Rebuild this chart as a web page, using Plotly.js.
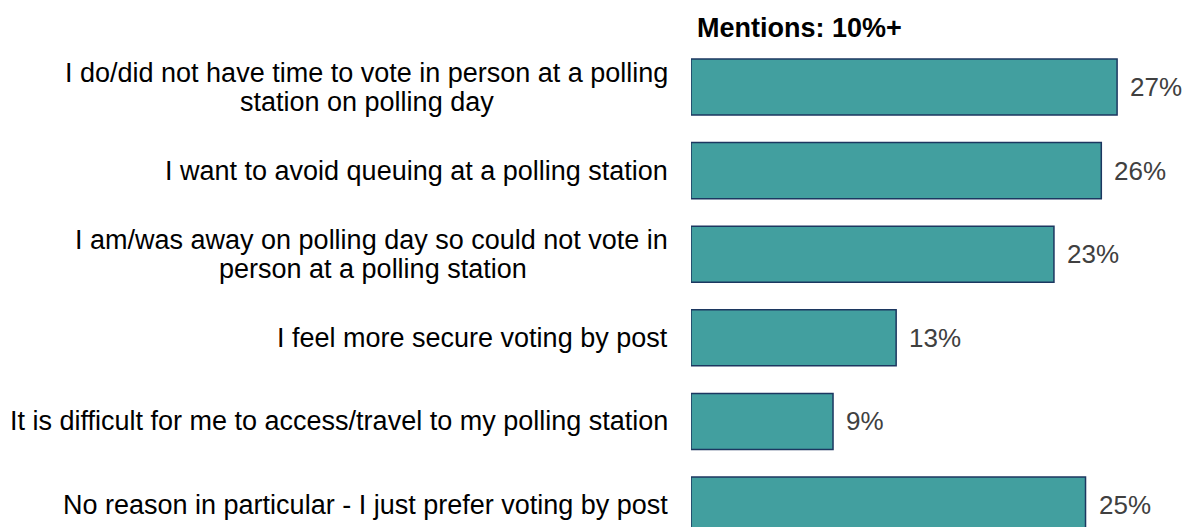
<!DOCTYPE html>
<html>
<head>
<meta charset="utf-8">
<script src="https://cdn.plot.ly/plotly-3.0.1.min.js"></script>
<style>
  html, body { margin: 0; padding: 0; background: #ffffff; }
  #chart { width: 1184px; height: 527px; }
</style>
</head>
<body>
<div id="chart"></div>
<script>
// Reasons given for voting by post (mentions of 10% or more)
const reasons = [
  "I do/did not have time to vote in person at a polling<br>station on polling day",
  "I want to avoid queuing at a polling station",
  "I am/was away on polling day so could not vote in<br>person at a polling station",
  "I feel more secure voting by post",
  "It is difficult for me to access/travel to my polling station",
  "No reason in particular - I just prefer voting by post"
];
const shares = [27, 26, 23, 13, 9, 25];
const headerText = "Mentions: 10%+";

const LABEL_FONT = "Liberation Sans, Arial, sans-serif";
const LABEL_SIZE = 27;
const VALUE_SIZE = 26;
const LINE_GAP = 29;
const LABEL_GAP = 21;

// category keys are the labels without line breaks
const keys = reasons.map(r => r.replace(/<br>/g, " "));

// width of a text line, used to centre wrapped label lines on each other
const ctx = document.createElement("canvas").getContext("2d");
ctx.font = LABEL_SIZE + 'px "Liberation Sans", Arial, sans-serif';
const textWidth = s => ctx.measureText(s).width;

const annotations = [];

// category labels, right-aligned against the bars, wrapped lines centred
reasons.forEach((r, i) => {
  const lines = r.split("<br>");
  const first = textWidth(lines[0]);
  lines.forEach((line, j) => {
    const offset = (j - (lines.length - 1) / 2) * LINE_GAP;
    annotations.push({
      xref: "paper", x: 0, yref: "y", y: keys[i],
      xanchor: j === 0 ? "right" : "center",
      xshift: j === 0 ? -LABEL_GAP : -LABEL_GAP - 1 - first / 2,
      yanchor: "middle", yshift: -offset,
      text: line, showarrow: false,
      font: { family: LABEL_FONT, size: LABEL_SIZE, color: "#000000" }
    });
  });
});

// value labels at the end of each bar
shares.forEach((v, i) => {
  annotations.push({
    xref: "x", x: v, yref: "y", y: keys[i],
    xanchor: "left", xshift: 11, yanchor: "middle",
    text: v + "%", showarrow: false,
    font: { family: LABEL_FONT, size: VALUE_SIZE, color: "#404040" }
  });
});

// column header above the bars
annotations.push({
  xref: "paper", x: 0, xanchor: "left", xshift: 4,
  yref: "paper", y: 1 - 28 / 527, yanchor: "middle",
  text: "<b>" + headerText + "</b>", showarrow: false,
  font: { family: LABEL_FONT, size: 27, color: "#000000" }
});

const trace = {
  type: "bar",
  orientation: "h",
  x: shares,
  y: keys,
  width: 0.67,
  marker: {
    color: "#429f9f",
    line: { color: "#1c3760", width: 1.5 }
  },
  hoverinfo: "skip"
};

const layout = {
  width: 1184,
  height: 527,
  margin: { l: 691, r: 0, t: 0, b: 0, pad: 0 },
  paper_bgcolor: "#ffffff",
  plot_bgcolor: "#ffffff",
  showlegend: false,
  xaxis: {
    range: [0, 31.24],
    visible: false,
    fixedrange: true
  },
  yaxis: {
    type: "category",
    categoryarray: keys,
    range: [5.263, -1.041],
    showticklabels: false,
    showgrid: false,
    zeroline: false,
    showline: false,
    ticks: "",
    fixedrange: true
  },
  annotations: annotations
};

Plotly.newPlot("chart", [trace], layout, { displayModeBar: false, staticPlot: true });
</script>
</body>
</html>
